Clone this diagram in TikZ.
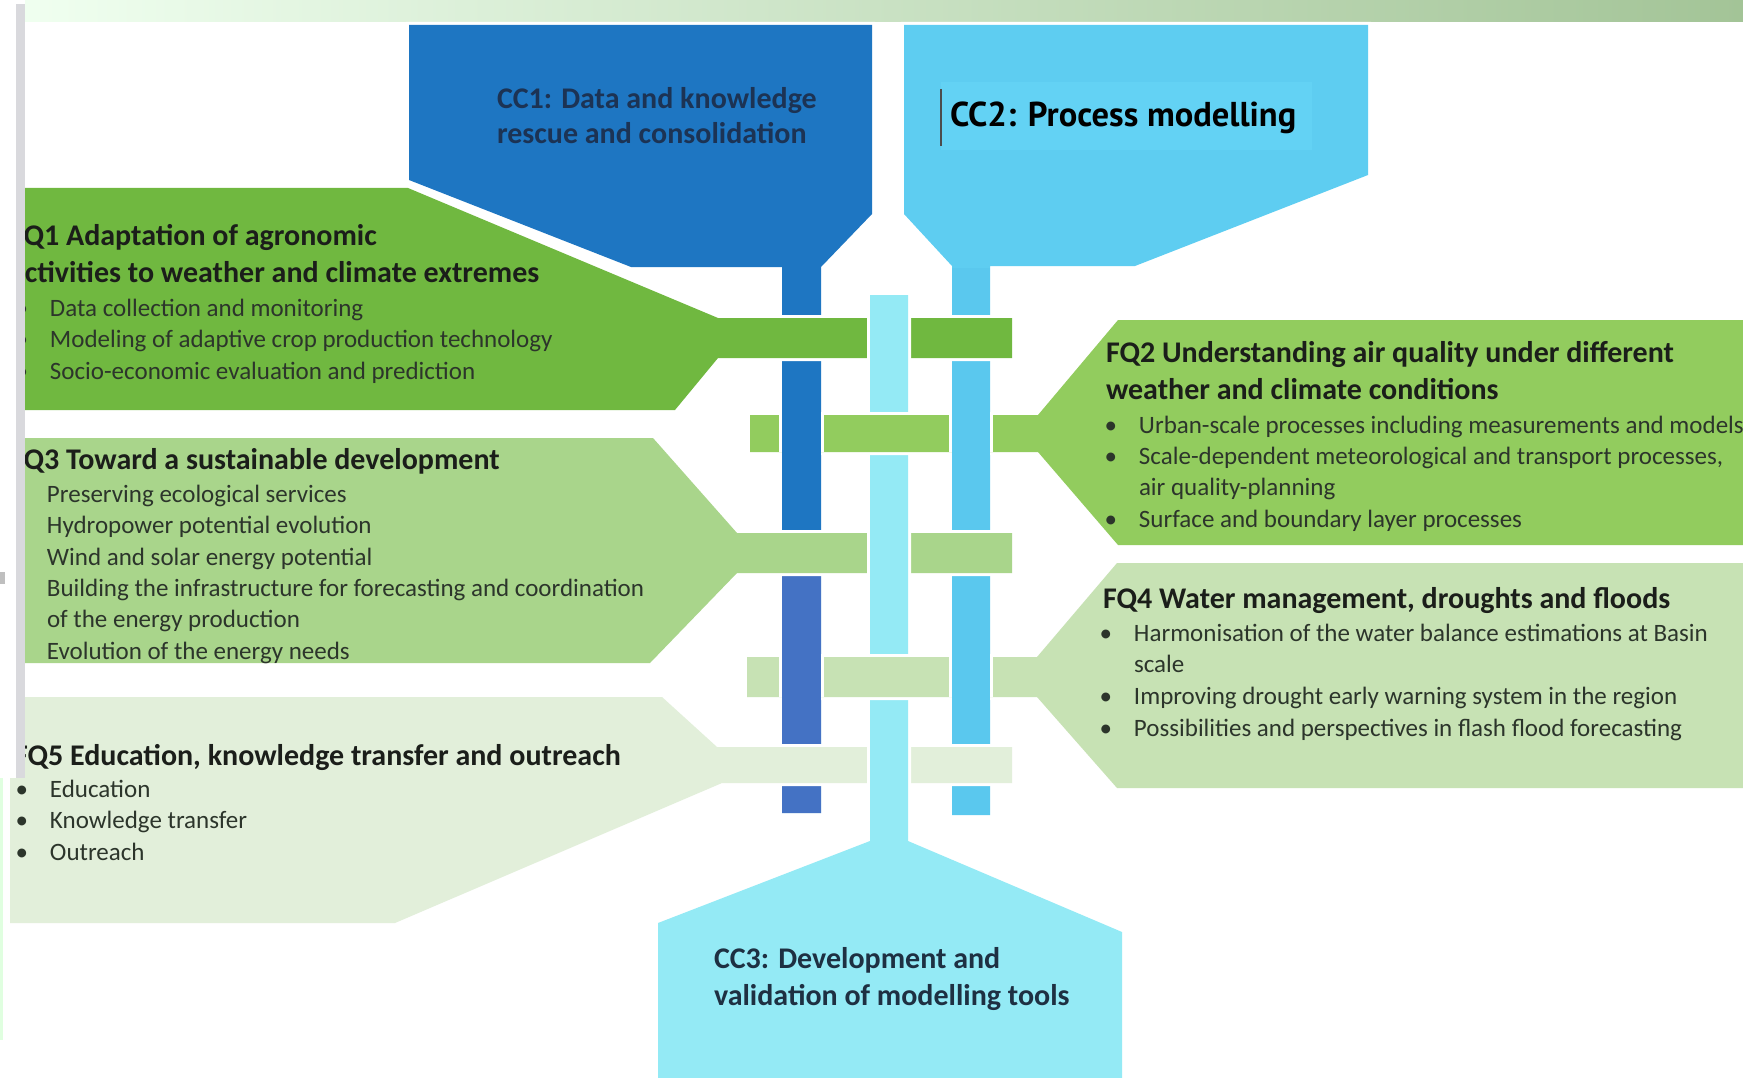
\documentclass[tikz,border=0pt]{standalone}
\usepackage{fontspec}
\setmainfont{Carlito}
\newfontfamily\ccfont{PT Sans}
\definecolor{ccone}{HTML}{1E76C2}
\definecolor{cconelow}{HTML}{4472C4}
\definecolor{cctwo}{HTML}{5ECDF1}
\definecolor{cctwostem}{HTML}{5AC8EE}
\definecolor{cctwobox}{HTML}{63D2F4}
\definecolor{ccthree}{HTML}{94EAF5}
\definecolor{fqone}{HTML}{70B840}
\definecolor{fqtwo}{HTML}{92CC5E}
\definecolor{fqthree}{HTML}{A9D58B}
\definecolor{fqfour}{HTML}{C7E2B4}
\definecolor{fqfive}{HTML}{E2EFDA}
\definecolor{titlecol}{HTML}{1B1E1A}
\definecolor{itemcol}{HTML}{2C352B}
\definecolor{cconetext}{HTML}{1C3354}
\definecolor{ccthreetext}{HTML}{1E3042}
\definecolor{greybar}{HTML}{D9D9DD}
\begin{document}
\begin{tikzpicture}[x=1pt,y=-1pt,
  every node/.style={inner sep=0pt, outer sep=0pt},
  halo/.style={preaction={draw=white, line width=6pt, line join=miter}},
  ttl/.style={anchor=west, yshift=-3.5pt, font=\fontsize{30}{36}\selectfont\bfseries, text=titlecol, text height=22pt, text depth=7pt},
  itm/.style={anchor=west, yshift=-3.5pt, font=\fontsize{25}{30}\selectfont, text=itemcol, text height=18pt, text depth=6pt},
  cctxt/.style={anchor=west, yshift=-3.5pt, font=\fontsize{30}{36}\selectfont\bfseries, text height=22pt, text depth=7pt}
]
\useasboundingbox (0,0) rectangle (1743,1078);
\clip (0,0) rectangle (1743,1078);
\fill[white] (0,0) rectangle (1743,1078);

% top band
\shade[left color=green!6!white, middle color=green!10!white, right color={rgb,255:red,163;green,196;blue,151}] (25,0) rectangle (1743,22);

% CC1 with stem
\fill[ccone, halo] (409,25) -- (872,25) -- (872,214) -- (821,267) -- (821,813) -- (782,813) -- (782,267) -- (631,267) -- (409,180) -- cycle;
\fill[cconelow] (782,560) rectangle (821,813);
% CC2 with stem
\fill[cctwo, halo] (904,25) -- (1368,25) -- (1368,175) -- (1135,266) -- (990,266) -- (990,815) -- (952,815) -- (952,266) -- (904,214) -- cycle;
\fill[cctwostem] (952,268) rectangle (990,815);
\fill[cctwobox] (941,82) rectangle (1312,150);

% FQ1, FQ3, FQ5 (over CC1 and CC2)
\fill[fqone, halo] (5,188) -- (408,188) -- (718,318) -- (1012,318) -- (1012,358) -- (718,358) -- (675,410) -- (5,410) -- cycle;
\fill[fqthree, halo] (5,438) -- (653,438) -- (737,533) -- (1012,533) -- (1012,573) -- (737,573) -- (650,663) -- (5,663) -- cycle;
\fill[fqfive, halo] (10,697) -- (662,697) -- (717,747) -- (1012,747) -- (1012,783) -- (722,783) -- (395,923) -- (10,923) -- cycle;

% CC3 (over FQ1, FQ3, FQ5)
\fill[ccthree, halo] (870,295) -- (908,295) -- (908,841) -- (1122,932) -- (1122,1090) -- (658,1090) -- (658,923) -- (870,841) -- cycle;

% FQ2, FQ4 (over CC3)
\fill[fqtwo, halo] (1760,320) -- (1118,320) -- (1038,415) -- (750,415) -- (750,452) -- (1038,452) -- (1118,545) -- (1760,545) -- cycle;
\fill[fqfour, halo] (1760,563) -- (1117,563) -- (1037,657) -- (747,657) -- (747,697) -- (1037,697) -- (1117,788) -- (1760,788) -- cycle;

% CC1 and CC2 stems passing over FQ2 and FQ4 bars
\fill[ccone] (782,406) rectangle (821,461);
\fill[cconelow] (782,648) rectangle (821,706);
\fill[cctwostem] (952,406) rectangle (990,461);
\fill[cctwostem] (952,648) rectangle (990,706);
\draw[white, line width=3pt] (780.5,415) -- (780.5,452) (822.5,415) -- (822.5,452)
  (950.5,415) -- (950.5,452) (991.5,415) -- (991.5,452)
  (780.5,657) -- (780.5,697) (822.5,657) -- (822.5,697)
  (950.5,657) -- (950.5,697) (991.5,657) -- (991.5,697);

% CC texts
\node[cctxt, text=cconetext] (cc1a) at (497,98) {CC1: Data and knowledge};
\node[cctxt, text=cconetext] (cc1b) at (497,133) {rescue and consolidation};
\draw[black!70, line width=1.3pt] (941,89) -- (941,146);
\node[anchor=west, yshift=-2pt, font=\ccfont\fontsize{34.5}{40}\selectfont\bfseries, text=black] (cc2) at (950,116) {CC2: Process modelling};
\node[cctxt, text=ccthreetext] (cc3a) at (714,957) {CC3: Development and};
\node[cctxt, text=ccthreetext] (cc3b) at (714,994) {validation of modelling tools};

% FQ1
\node[ttl] (fq1a) at (10,234.5) {FQ1 Adaptation of agronomic};
\node[ttl] (fq1b) at (10,271) {activities to weather and climate extremes};
\node[itm] (fq1c) at (50,307) {\llap{•\hspace{22pt}}Data collection and monitoring};
\node[itm] (fq1d) at (50,338) {\llap{•\hspace{22pt}}Modeling of adaptive crop production technology};
\node[itm] (fq1e) at (50,370) {\llap{•\hspace{22pt}}Socio-economic evaluation and prediction};

% FQ3
\node[ttl] (fq3a) at (10,458) {FQ3 Toward a sustainable development};
\node[itm] (fq3b) at (47,492.5) {\llap{•\hspace{22pt}}Preserving ecological services};
\node[itm] (fq3c) at (47,523.5) {\llap{•\hspace{22pt}}Hydropower potential evolution};
\node[itm] (fq3d) at (47,556) {\llap{•\hspace{22pt}}Wind and solar energy potential};
\node[itm] (fq3e) at (47,587) {\llap{•\hspace{22pt}}Building the infrastructure for forecasting and coordination};
\node[itm] (fq3f) at (47,618) {of the energy production};
\node[itm] (fq3g) at (47,650) {\llap{•\hspace{22pt}}Evolution of the energy needs};

% FQ5
\node[ttl] (fq5a) at (14,754) {FQ5 Education, knowledge transfer and outreach};
\node[itm] (fq5b) at (50,788) {\llap{•\hspace{22pt}}Education};
\node[itm] (fq5c) at (50,819) {\llap{•\hspace{22pt}}Knowledge transfer};
\node[itm] (fq5d) at (50,851) {\llap{•\hspace{22pt}}Outreach};

% FQ2
\node[ttl] (fq2a) at (1106,351) {FQ2 Understanding air quality under different};
\node[ttl] (fq2b) at (1106,388) {weather and climate conditions};
\node[itm] (fq2c) at (1139,423.5) {\llap{•\hspace{22pt}}Urban-scale processes including measurements and models};
\node[itm] (fq2d) at (1139,455) {\llap{•\hspace{22pt}}Scale-dependent meteorological and transport processes,};
\node[itm] (fq2e) at (1139,486) {air quality-planning};
\node[itm] (fq2f) at (1139,518) {\llap{•\hspace{22pt}}Surface and boundary layer processes};

% FQ4
\node[ttl] (fq4a) at (1103,597) {FQ4 Water management, droughts and floods};
\node[itm] (fq4b) at (1134,631.5) {\llap{•\hspace{22pt}}Harmonisation of the water balance estimations at Basin};
\node[itm] (fq4c) at (1134,662.5) {scale};
\node[itm] (fq4d) at (1134,695) {\llap{•\hspace{22pt}}Improving drought early warning system in the region};
\node[itm] (fq4e) at (1134,727) {\llap{•\hspace{22pt}}Possibilities and perspectives in flash flood forecasting};

% left frame overlay
\fill[white] (0,0) rectangle (16,778);
\fill[greybar] (16,4) rectangle (25,778);
\fill[black!25] (0,572) rectangle (5,584);
\fill[green!12!white] (0,778) rectangle (3,1040);
\end{tikzpicture}
\end{document}
